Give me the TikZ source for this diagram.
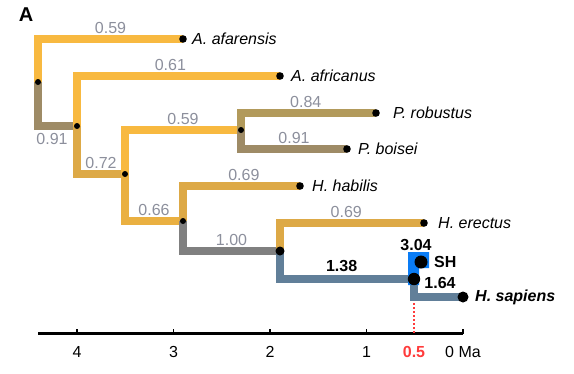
\documentclass[tikz,border=0pt]{standalone}
\usepackage{fontspec}
\setmainfont{Liberation Sans}
\usetikzlibrary{calc}
\definecolor{goldA}{HTML}{F8B940}
\definecolor{goldB}{HTML}{DDA946}
\definecolor{goldC}{HTML}{EAB041}
\definecolor{taupe}{HTML}{9E8B66}
\definecolor{khaki}{HTML}{B29A5B}
\definecolor{stone}{HTML}{808080}
\definecolor{slate}{HTML}{617F99}
\definecolor{shblue}{HTML}{0A7CF5}
\definecolor{labgray}{HTML}{8C8F9C}
\definecolor{agered}{HTML}{FF3B3B}

\begin{document}
\begin{tikzpicture}[x=1pt, y=-1pt,
  every node/.style={font=\fontsize{16}{19}\selectfont, inner sep=0pt},
  br/.style={line width=8pt},
  lab/.style={text=labgray, yshift=11pt},
  blab/.style={text=black, font=\fontsize{16}{19}\selectfont\bfseries},
  tip/.style={anchor=west, font=\fontsize{16}{19}\selectfont\itshape}]
\useasboundingbox (0,0) rectangle (574,373);
\def\ma{96.5}
\def\xzero{463}
\def\yaxis{333.5}

\coordinate (root) at (38,82);
\coordinate (n1) at (77,126);
\coordinate (n2) at (125,174);
\coordinate (n3) at (241,130);
\coordinate (n4) at (183,221);
\coordinate (n5) at (280,251);
\coordinate (n6) at (414,279);
\coordinate (afa) at (183,39);
\coordinate (afr) at (280,76);
\coordinate (rob) at (376,113);
\coordinate (boi) at (347,149);
\coordinate (hab) at (300,186);
\coordinate (ere) at (424,223);
\coordinate (sh) at (421,262);
\coordinate (sap) at (463,297);

\draw[br, goldA] (root) |- node[lab, pos=.75] (bAfa) {0.59} (afa);
\draw[br, taupe] (root) |- (n1);
\draw[br, goldA] (n1) |- node[lab, pos=.73] (bAfr) {0.61} (afr);
\draw[br, goldB] (n1) |- node[lab, pos=.75] (bTwo) {0.72} (n2);
\draw[br, goldA] (n2) |- node[lab, pos=.75] (bThree) {0.59} (n3);
\draw[br, goldC] (n2) |- node[lab, pos=.75] (bFour) {0.66} (n4);
\draw[br, khaki] (n3) |- node[lab, pos=.74] (bRob) {0.84} (rob);
\draw[br, taupe] (n3) |- node[lab, pos=.75] (bBoi) {0.91} (boi);
\draw[br, goldB] (n4) |- node[lab, pos=.76] (bHab) {0.69} (hab);
\draw[br, stone] (n4) |- node[lab, pos=.75] (bFive) {1.00} (n5);
\draw[br, goldB] (n5) |- node[lab, pos=.73] (bEre) {0.69} (ere);
\draw[br, slate] (n5) |- node[blab, pos=.73, yshift=13pt] (bSix) {1.38} (n6);
\draw[br, slate] (n6) |- (sap);
\fill[shblue] (408,252) -- (429,252) -- (429,268) -- (419,268) -- (419,285) -- (408,285) -- cycle;

\foreach \c in {root,n1,n2,n3,n4}
  \fill (\c) circle (3);
\foreach \c in {afa,afr,rob,boi,hab,ere}
  \fill (\c) circle (3.8);
\fill (n5) circle (4.5);
\fill (n6) circle (6.2);
\fill (sh) circle (6.5);
\fill (sap) circle (5.5);

\node[text=labgray] (bRoot) at (52,139) {0.91};
\node[blab] (bSH) at (416,245) {3.04};
\node[blab] (bSap) at (440,283) {1.64};

\node[tip] (tAfa) at ($(afa)+(9,0)$) {A. afarensis};
\node[tip] (tAfr) at ($(afr)+(11,0)$) {A. africanus};
\node[tip] (tRob) at ($(rob)+(17,0)$) {P. robustus};
\node[tip] (tBoi) at ($(boi)+(11,0)$) {P. boisei};
\node[tip] (tHab) at ($(hab)+(12,0)$) {H. habilis};
\node[tip] (tEre) at ($(ere)+(14,0)$) {H. erectus};
\node[anchor=west, font=\fontsize{16}{19}\selectfont\bfseries] (tSH) at ($(sh)+(13,0)$) {SH};
\node[tip, font=\fontsize{16}{19}\selectfont\bfseries\itshape] (tSap) at ($(sap)+(12,0)$) {H. sapiens};

\coordinate (axL) at (38,\yaxis);
\coordinate (axR) at (\xzero,\yaxis);
\draw[line width=2.5pt] (axL) -- (axR);
\foreach \t in {1,...,4}{
  \draw[line width=1.5pt] ({\xzero-\ma*\t},\yaxis) -- ++(0,-4.5);
  \node (tick\t) at ({\xzero-\ma*\t},352) {\t};
}
\draw[line width=1.5pt] (axR) -- ++(0,-4.5);
\node (tickZero) at (\xzero,352) {0 Ma};

\coordinate (halfTop) at (414,303);
\coordinate (halfAx) at (414,\yaxis);
\draw[agered, line width=2pt, dash pattern=on 2pt off 2pt] (halfTop) -- (halfAx);
\node[text=agered, font=\fontsize{16}{19}\selectfont\bfseries] (tickHalf) at (414,352) {0.5};

\node[font=\fontsize{20}{24}\selectfont\bfseries] (panel) at (26,15) {A};
\end{tikzpicture}
\end{document}
